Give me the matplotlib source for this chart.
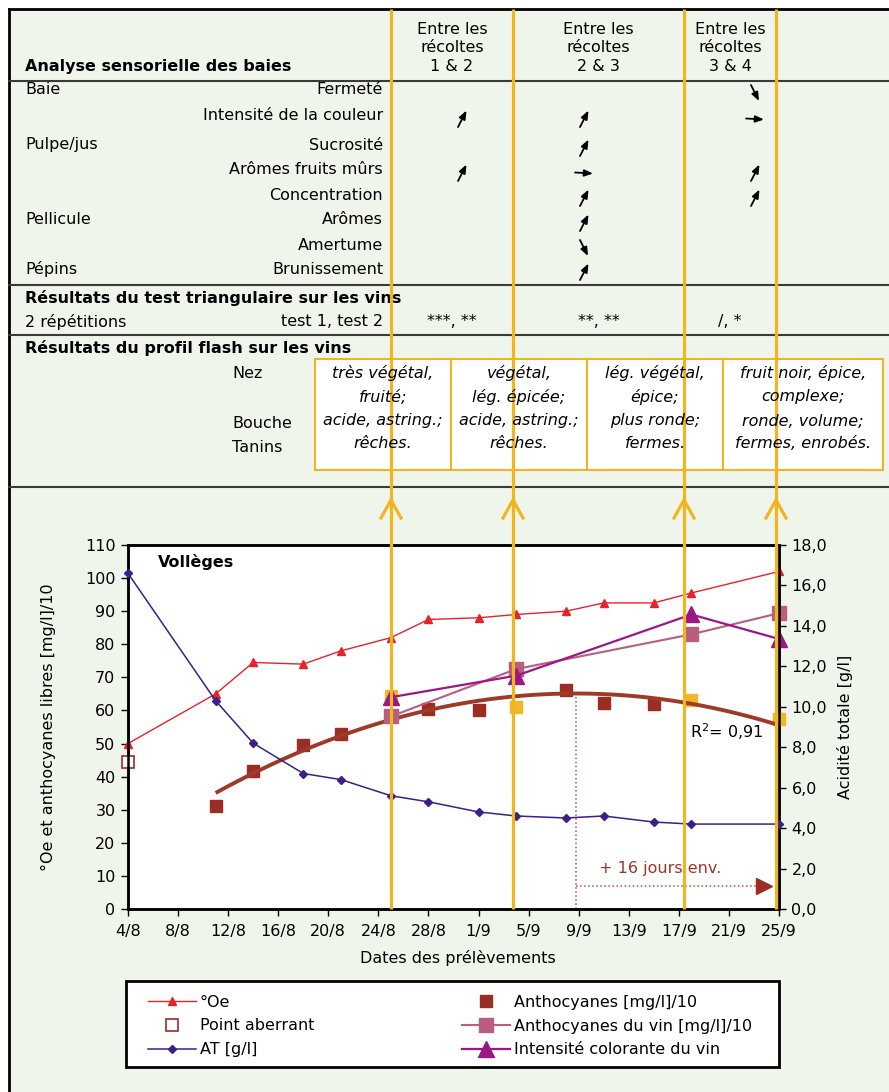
import numpy as np
import pandas as pd
import matplotlib
matplotlib.use("Agg")
import matplotlib.pyplot as plt
import matplotlib.dates as mdates
from matplotlib.patches import Rectangle

plt.rcParams["font.family"] = "DejaVu Sans"
FS = 11.5

# ---- maturation data (Vollèges) ----
sample_dates = ["2008-08-04", "2008-08-11", "2008-08-14", "2008-08-18", "2008-08-21",
                "2008-08-25", "2008-08-28", "2008-09-01", "2008-09-04", "2008-09-08",
                "2008-09-11", "2008-09-15", "2008-09-18", "2008-09-25"]
oechsle = [50, 65, 74.5, 74, 78, 82, 87.5, 88, 89, 90, 92.5, 92.5, 95.5, 102]
acidity = [16.6, 10.3, 8.2, 6.7, 6.4, 5.6, 5.3, 4.8, 4.6, 4.5, 4.6, 4.3, 4.2, 4.2]

antho_dates = ["2008-08-11", "2008-08-14", "2008-08-18", "2008-08-21", "2008-08-28",
               "2008-09-01", "2008-09-08", "2008-09-11", "2008-09-15"]
antho = [31, 41.8, 49.6, 52.8, 60.5, 60.0, 66.2, 62.2, 62.0]
harvest_dates = ["2008-08-25", "2008-09-04", "2008-09-18", "2008-09-25"]
antho_harvest = [64.5, 61, 63.3, 57.3]
outlier_date = ["2008-08-04"]
outlier_value = [44.3]
wine_antho = [58.2, 72.5, 83, 89.4]
wine_color = [64, 70.5, 89, 81.6]
r2_label = "R$^{2}$= 0,91"
delay_label = "+ 16 jours env."

# ---- sensory table ----
sens_groups = ["Baie", "", "Pulpe/jus", "", "", "Pellicule", "", "Pépins"]
sens_attrs = ["Fermeté", "Intensité de la couleur", "Sucrosité", "Arômes fruits mûrs",
              "Concentration", "Arômes", "Amertume", "Brunissement"]
periods = ["Entre les\nrécoltes\n1 & 2", "Entre les\nrécoltes\n2 & 3", "Entre les\nrécoltes\n3 & 4"]
trend_12 = ["", "up", "", "up", "", "", "", ""]
trend_23 = ["", "up", "up", "flat", "up", "up", "down", "up"]
trend_34 = ["down", "flat", "", "up", "up", "", "", ""]
triangle_tests = ["***, **", "**, **", "/, *"]
flash_labels = ["Nez", "Bouche", "Tanins"]
flash_profiles = [
    ["très végétal,", "fruité;", "acide, astring.;", "rêches."],
    ["végétal,", "lég. épicée;", "acide, astring.;", "rêches."],
    ["lég. végétal,", "épice;", "plus ronde;", "fermes."],
    ["fruit noir, épice,", "complexe;", "ronde, volume;", "fermes, enrobés."],
]

# colours
RED = "#e6232b"
INDIGO = "#3b1f8a"
BROWN = "#9a2e24"
TREND = "#9e3a28"
PINK = "#b85f80"
PURPLE = "#9b1785"
YELLOW = "#f0b72b"
ORANGE = "#f0b51f"
BG = "#f0f5eb"

# page layout in pixels
W, H = 889, 1092
col_edges = [391, 513, 684, 776]
row_y = [90, 116, 145, 170, 195, 220, 245, 269]
arrow_x = [462, 584, 755]
box_edges = [315, 451, 587, 723, 883]
box_top, box_bottom = 359, 470
box_line_y = [373, 397, 421, 444]
flash_label_y = [373, 424, 448]

fig = plt.figure(figsize=(W / 100, H / 100), dpi=100)

# background layer: frame, table text, separators
bg = fig.add_axes([0, 0, 1, 1], zorder=0)
bg.set_xlim(0, W)
bg.set_ylim(H, 0)
bg.autoscale(False)
bg.axis("off")
bg.add_patch(Rectangle((9, 9), W, H, facecolor=BG, edgecolor="none"))
bg.plot([9, W], [9, 9], color="black", lw=2)
bg.plot([9, 9], [9, H], color="black", lw=2)
for y in (81, 285, 335, 487):
    bg.plot([9, W], [y, y], color="#3a3a3a", lw=1.5)

bg.text(25, 67, "Analyse sensorielle des baies", fontsize=FS, fontweight="bold", va="center")
col_centers = [(a + b) / 2 for a, b in zip(col_edges[:-1], col_edges[1:])]
for xc, lab in zip(col_centers, periods):
    bg.text(xc, 48, lab, ha="center", va="center", fontsize=FS, linespacing=1.3)
for y, g, a in zip(row_y, sens_groups, sens_attrs):
    bg.text(25, y, g, va="center", fontsize=FS)
    bg.text(383, y, a, ha="right", va="center", fontsize=FS)

vectors = {"up": (-4, 8, 4.5, -8.5), "down": (-4, -8, 4, 8), "flat": (-9, -0.5, 9, 0.5)}
for x, column in zip(arrow_x, (trend_12, trend_23, trend_34)):
    for y, t in zip(row_y, column):
        if not t:
            continue
        dx0, dy0, dx1, dy1 = vectors[t]
        bg.annotate("", xy=(x + dx1, y + 3 + dy1), xytext=(x + dx0, y + 3 + dy0),
                    arrowprops=dict(arrowstyle="-|>,head_length=0.5,head_width=0.2",
                                    color="black", lw=1.3, shrinkA=0, shrinkB=0))

bg.text(25, 298, "Résultats du test triangulaire sur les vins", fontsize=FS,
        fontweight="bold", va="center")
bg.text(25, 322, "2 répétitions", fontsize=FS, va="center")
bg.text(383, 322, "test 1, test 2", fontsize=FS, va="center", ha="right")
for xc, t in zip(col_centers, triangle_tests):
    bg.text(xc, 322, t, fontsize=FS, va="center", ha="center")
bg.text(25, 348, "Résultats du profil flash sur les vins", fontsize=FS,
        fontweight="bold", va="center")
for y, lab in zip(flash_label_y, flash_labels):
    bg.text(232, y, lab, fontsize=FS, va="center")

# legend frame
bg.add_patch(Rectangle((126, 981), 653, 86, facecolor="white", edgecolor="black", lw=2))

# ---- chart ----
ax = fig.add_axes([128 / W, 1 - 909 / H, 651 / W, 364 / H], zorder=2)
ax.set_facecolor("white")
ax2 = ax.twinx()

d = pd.to_datetime(sample_dates)
da = pd.to_datetime(antho_dates)
dh = pd.to_datetime(harvest_dates)

l_oe, = ax.plot(d, oechsle, color=RED, lw=1, marker="^", ms=5.5, clip_on=False, zorder=4)
l_out, = ax.plot(pd.to_datetime(outlier_date), outlier_value, ls="none", marker="s", ms=8,
                 mfc="white", mec=BROWN, mew=1.2, clip_on=False, zorder=4)
l_an, = ax.plot(da, antho, ls="none", marker="s", ms=8.5, color=BROWN, zorder=3)
ax.plot(dh, antho_harvest, ls="none", marker="s", ms=8.5, color=YELLOW, clip_on=False, zorder=3)
l_wa, = ax.plot(dh, wine_antho, color=PINK, lw=1.5, marker="s", ms=10, clip_on=False, zorder=5)
l_wc, = ax.plot(dh, wine_color, color=PURPLE, lw=1.6, marker="^", ms=11, clip_on=False, zorder=6)

# 2nd-order trend of berry anthocyanins
xa = mdates.date2num(np.concatenate([da.values, dh.values]))
ya = np.array(antho + antho_harvest)
x0 = xa.min()
coef = np.polyfit(xa - x0, ya, 2)
xt = np.linspace(xa.min(), xa.max(), 200)
ax.plot(mdates.num2date(xt), np.polyval(coef, xt - x0), color=TREND, lw=2.8, zorder=4,
        solid_capstyle="butt")

# delay between the anthocyanin maximum and the last harvest
xv = -coef[1] / (2 * coef[0])
yv = np.polyval(coef, xv)
xv_num = x0 + xv
x_end = mdates.date2num(dh[-1]) - 1.2
ax.plot(mdates.num2date([xv_num, xv_num]), [0, yv], ls=":", color="#d9443c", lw=1.1, zorder=3)
ax.plot(mdates.num2date([xv_num, x_end]), [7, 7], ls=":", color="#d9443c", lw=1.1, zorder=3)
ax.plot(mdates.num2date([x_end]), [7], marker=">", ms=12, color=BROWN, zorder=4)
ax.text(0.7235, 0.11, delay_label, transform=ax.transAxes, color="#a0352a", fontsize=FS,
        va="center")
ax.text(0.863, 0.486, r2_label, transform=ax.transAxes, fontsize=FS, va="center")
ax.text(0.046, 0.953, "Vollèges", transform=ax.transAxes, fontsize=FS, fontweight="bold",
        va="center")

l_at, = ax2.plot(d, acidity, color=INDIGO, lw=1.1, marker="D", ms=3.8, clip_on=False, zorder=4)

start, end = pd.Timestamp(sample_dates[0]), pd.Timestamp(sample_dates[-1])
ax.set_xlim(start, end)
ticks = pd.date_range(start, end, freq="4D")
ax.set_xticks(ticks)
ax.set_xticklabels([f"{t.day}/{t.month}" for t in ticks])
ax.set_ylim(0, 110)
ax.set_yticks(range(0, 111, 10))
ax2.set_ylim(0, 18)
ax2.set_yticks(np.arange(0, 19, 2))
ax2.set_yticklabels([f"{v:.1f}".replace(".", ",") for v in np.arange(0, 19, 2)])

for a in (ax, ax2):
    for s in a.spines.values():
        s.set_color("black")
        s.set_linewidth(1.8)
ax.tick_params(axis="x", direction="out", length=5, width=1, labelsize=FS, pad=6)
ax.tick_params(axis="y", direction="out", length=5, width=1, labelsize=FS, pad=4)
ax2.tick_params(axis="y", direction="out", length=5, width=1, labelsize=FS, pad=4)

ax.set_ylabel("°Oe et anthocyanes libres [mg/l]/10", fontsize=FS, va="center")
ax.yaxis.set_label_coords((48 - 128) / 651, 0.5)
ax2.set_ylabel("Acidité totale [g/l]", fontsize=FS, va="center")
ax2.yaxis.set_label_coords((845 - 128) / 651, 0.5)
ax.set_xlabel("Dates des prélèvements", fontsize=FS, va="center")
ax.xaxis.set_label_coords(0.507, (909 - 958) / 364)

handles = [l_oe, l_out, l_at, l_an, l_wa, l_wc]
labels = ["°Oe", "Point aberrant", "AT [g/l]", "Anthocyanes [mg/l]/10",
          "Anthocyanes du vin [mg/l]/10", "Intensité colorante du vin"]
ax2.legend(handles, labels, ncol=2, loc="center", mode="expand", frameon=False,
           bbox_to_anchor=(148 / W, 1 - 1069 / H, (752 - 148) / W, 86 / H),
           bbox_transform=fig.transFigure, borderpad=0, borderaxespad=0,
           fontsize=FS, handlelength=3.0, handletextpad=0.25, labelspacing=0.55,
           numpoints=1)

# ---- overlay: harvest lines and wine flash profiles ----
top = fig.add_axes([0, 0, 1, 1], zorder=5)
top.set_xlim(0, W)
top.set_ylim(H, 0)
top.autoscale(False)
top.axis("off")
top.patch.set_alpha(0)
for x in col_edges:
    top.plot([x, x], [9, 909], color=ORANGE, lw=2.3, solid_capstyle="butt")
    top.plot([x - 10, x, x + 10], [518, 500, 518], color=ORANGE, lw=2.3)
for i, lines in enumerate(flash_profiles):
    xa0, xa1 = box_edges[i], box_edges[i + 1]
    top.add_patch(Rectangle((xa0, box_top), xa1 - xa0, box_bottom - box_top,
                            facecolor="white", edgecolor=ORANGE, lw=1.5))
    for y, s in zip(box_line_y, lines):
        top.text((xa0 + xa1) / 2, y, s, ha="center", va="center", style="italic", fontsize=FS)

fig.savefig("out.png", dpi=100, facecolor="white")
